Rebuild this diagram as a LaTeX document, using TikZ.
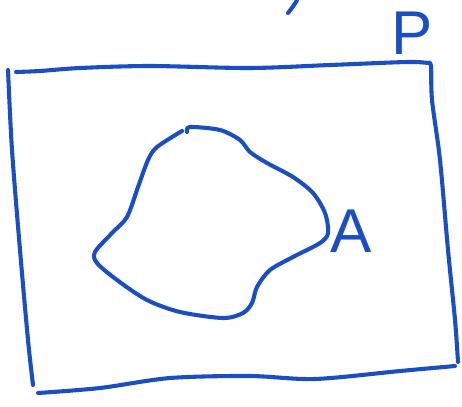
\documentclass[tikz,border=0pt]{standalone}
\usepackage{fontspec}
\setsansfont{Liberation Sans}
\usepackage{tikz}
\usetikzlibrary{positioning}
\definecolor{pen}{HTML}{1A4FC4}

\begin{document}
\begin{tikzpicture}[x=0.25mm,y=-0.25mm,line cap=round,line join=round,
  pen/.style={draw=pen,line width=2.9pt},
  letter/.style={text=pen,font=\sffamily\fontsize{44}{44}\selectfont,inner sep=0pt}]
\useasboundingbox (0,0) rectangle (462,406);
% the set P
\draw[pen] plot[smooth] coordinates {(16,72) (40,71) (80,68) (150,66) (250,68) (330,65) (407,62) (428,63)};
\draw[pen] plot[smooth] coordinates {(8,70) (12,150) (20,250) (28,340) (33,385)};
\draw[pen] plot[smooth] coordinates {(428,63) (431,66) (432,100) (440,160) (448,250) (455,320) (458,362)};
\draw[pen] plot[smooth] coordinates {(38,393) (100,388) (170,378) (250,376) (315,379) (400,371) (455,366)};
% the set A
\draw[pen] plot[smooth] coordinates {(182,131) (157,147) (148,160) (138,187) (127,217) (112,233) (95,252) (97,263) (117,280) (147,300) (180,312) (223,318) (243,313) (252,303) (257,287) (270,270) (293,257) (320,243) (328,233) (325,213) (313,193) (293,177) (267,163) (250,152) (240,140) (220,130) (190,127) (187,132)};
% stroke cut off at the top
\draw[pen] (288,13) .. controls (292,8) and (295,4) .. (297,0);
\node[letter] (lblA) at (351,231) {A};
\node[letter] (lblP) at (412,33) {P};
\end{tikzpicture}
\end{document}
